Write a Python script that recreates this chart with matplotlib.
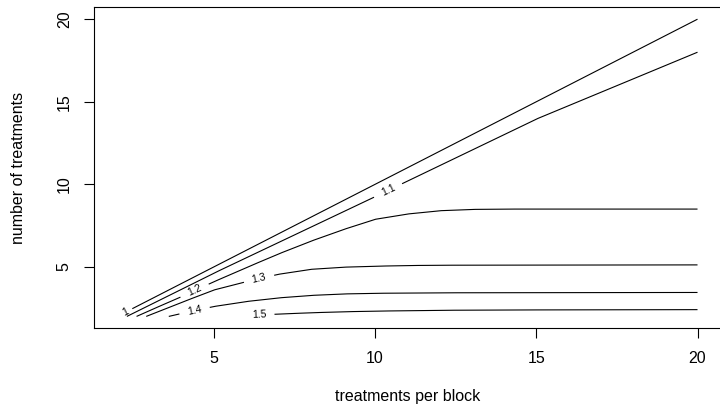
import numpy as np
import matplotlib.pyplot as plt

plt.rcParams['font.family'] = ['Liberation Sans', 'DejaVu Sans']

# contour lines
levels = ['1', '1.1', '1.2', '1.3', '1.4', '1.5']

lev1_x = [2, 20]
lev1_y = [2, 20]
lev11_x = [2.3, 5, 10, 15, 20]
lev11_y = [2.0, 4.62, 9.25, 13.95, 18.0]
lev12_x = [2.6, 3, 4, 5, 6, 7, 8, 9, 10, 11, 12, 13, 14, 20]
lev12_y = [2.0, 2.35, 3.2, 4.1, 4.95, 5.78, 6.55, 7.25, 7.88, 8.2, 8.4, 8.48, 8.5, 8.5]
lev13_x = [2.9, 4, 5, 6, 7, 8, 9, 10, 11, 12, 20]
lev13_y = [2.0, 2.85, 3.6, 4.1, 4.55, 4.85, 4.98, 5.04, 5.08, 5.1, 5.12]
lev14_x = [3.6, 4, 5, 6, 7, 8, 9, 10, 12, 20]
lev14_y = [2.0, 2.18, 2.6, 2.9, 3.12, 3.27, 3.36, 3.4, 3.43, 3.45]
lev15_x = [5.7, 6, 7, 8, 9, 10, 12, 14, 20]
lev15_y = [2.0, 2.05, 2.14, 2.22, 2.28, 2.32, 2.37, 2.39, 2.41]

lines_x = [lev1_x, lev11_x, lev12_x, lev13_x, lev14_x, lev15_x]
lines_y = [lev1_y, lev11_y, lev12_y, lev13_y, lev14_y, lev15_y]

# where each label sits on its line (x value)
label_at = [2.25, 10.4, 4.4, 6.4, 4.4, 6.4]

fig = plt.figure(figsize=(7.2, 4.05), dpi=100)
ax = fig.add_axes([94 / 720, 1 - 328.3 / 405, 1 - 94 / 720 + 0.001, (328.3 - 7.3) / 405])
ax.set_xlim(1.28, 20.72)
ax.set_ylim(1.28, 20.72)

ax.set_xticks([5, 10, 15, 20])
ax.set_yticks([5, 10, 15, 20])
ax.tick_params(direction='out', length=7, width=0.8, labelsize=11.5, pad=9)
ax.tick_params(axis='y', labelrotation=90, pad=9)
for t in ax.get_yticklabels():
    t.set_va('center')
for s in ax.spines.values():
    s.set_linewidth(0.8)

ax.set_xlabel('treatments per block', fontsize=11.5, labelpad=17)
ax.set_ylabel('number of treatments', fontsize=11.5, labelpad=22)

fig.canvas.draw()
tr = ax.transData
inv = tr.inverted()

for lab, xs, ys, lx in zip(levels, lines_x, lines_y, label_at):
    xs = np.array(xs, float)
    ys = np.array(ys, float)
    pts = tr.transform(np.column_stack([xs, ys]))
    seg = np.hypot(np.diff(pts[:, 0]), np.diff(pts[:, 1]))
    s = np.concatenate([[0], np.cumsum(seg)])
    sf = np.linspace(0, s[-1], 2000)
    px = np.interp(sf, s, pts[:, 0])
    py = np.interp(sf, s, pts[:, 1])
    ly = np.interp(lx, xs, ys)
    c = tr.transform([[lx, ly]])[0]
    # rotate label along the line
    i = np.argmin(np.hypot(px - c[0], py - c[1]))
    j0, j1 = max(i - 10, 0), min(i + 10, len(px) - 1)
    ang = np.degrees(np.arctan2(py[j1] - py[j0], px[j1] - px[j0]))
    half = 3.8 * len(lab) + 4
    d = np.hypot(px - c[0], py - c[1])
    keep = d > half
    # drop tiny leftover bits
    if keep[0]:
        first_gap = np.argmax(~keep)
        if sf[first_gap] < 8:
            keep[:first_gap] = False
    dx, dy = inv.transform(np.column_stack([px, py])).T
    dx = np.where(keep, dx, np.nan)
    dy = np.where(keep, dy, np.nan)
    ax.plot(dx, dy, color='black', lw=0.8, solid_capstyle='butt')
    ax.text(lx, ly, lab, fontsize=7.5, rotation=ang, rotation_mode='anchor',
            ha='center', va='center')

fig.savefig('out.png', dpi=100)
